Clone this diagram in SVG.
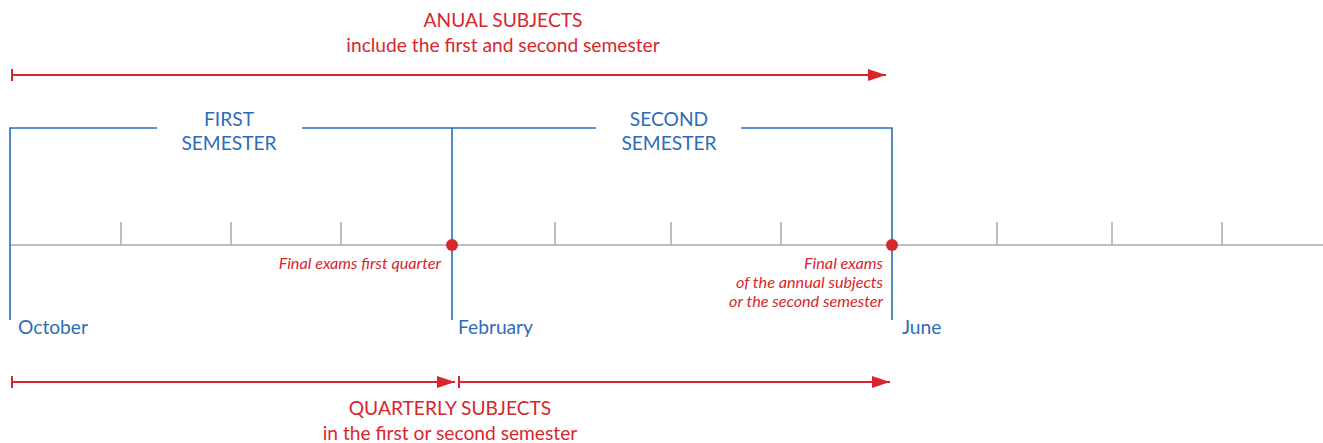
<svg xmlns="http://www.w3.org/2000/svg" width="1323" height="443" viewBox="0 0 1323 443">
<style>
text{font-family:Lato,"Open Sans","Liberation Sans",sans-serif}
.red{fill:#d7262c}
.blue{fill:#2c6cb8}
.h{font-size:19.2px;text-anchor:middle}
.m{font-size:19.2px}
.it{font-size:16.2px;font-style:italic;text-anchor:end}
.rl{stroke:#d7262c;stroke-width:2;fill:none}
.bl{stroke:#2c6cb8;stroke-width:1.6;fill:none}
.gl{stroke:#aaaaaa;stroke-width:1.5;fill:none}
</style>
<defs>
<marker id="ah" viewBox="0 0 10 10" refX="10" refY="5" markerWidth="18" markerHeight="12" markerUnits="userSpaceOnUse" orient="auto" preserveAspectRatio="none">
<path d="M0,0 L10,5 L0,10 Z" fill="#d7262c"/>
</marker>
</defs>
<rect width="1323" height="443" fill="#fff"/>
<g id="timeline">
<line class="gl" x1="10" y1="245" x2="1323" y2="245"/>
<path class="gl" d="M121,222V245M231,222V245M341,222V245M555,222V245M671,222V245M781,222V245M997,222V245M1112,222V245M1222,222V245"/>
</g>
<g id="semesters">
<path class="bl" d="M10,320V128H157M302,128H596M741,128H892V320M452,128V320"/>
<text class="blue h" x="229" y="126">FIRST</text>
<text class="blue h" x="229" y="150">SEMESTER</text>
<text class="blue h" x="669" y="126">SECOND</text>
<text class="blue h" x="669" y="150">SEMESTER</text>
</g>
<g id="months">
<text class="blue m" x="18" y="334">October</text>
<text class="blue m" x="458" y="334">February</text>
<text class="blue m" x="902" y="334">June</text>
</g>
<g id="exams">
<circle cx="452" cy="245" r="6" fill="#d7262c"/>
<circle cx="892" cy="245" r="6" fill="#d7262c"/>
<text class="red it" x="441" y="269">Final exams first quarter</text>
<text class="red it" x="883" y="269">Final exams</text>
<text class="red it" x="883" y="288">of the annual subjects</text>
<text class="red it" x="883" y="307">or the second semester</text>
</g>
<g id="connectors">
<line class="rl" x1="12" y1="75" x2="886" y2="75" marker-end="url(#ah)"/>
<line class="rl" x1="12" y1="69" x2="12" y2="81"/>
<line class="rl" x1="12" y1="382" x2="455" y2="382" marker-end="url(#ah)"/>
<line class="rl" x1="12" y1="376" x2="12" y2="388"/>
<line class="rl" x1="459" y1="382" x2="890" y2="382" marker-end="url(#ah)"/>
<line class="rl" x1="459" y1="376" x2="459" y2="388"/>
</g>
<g id="annual">
<text class="red h" x="503" y="27">ANUAL SUBJECTS</text>
<text class="red h" x="503" y="52">include the first and second semester</text>
</g>
<g id="quarterly">
<text class="red h" x="450" y="415">QUARTERLY SUBJECTS</text>
<text class="red h" x="450" y="440">in the first or second semester</text>
</g>
</svg>
